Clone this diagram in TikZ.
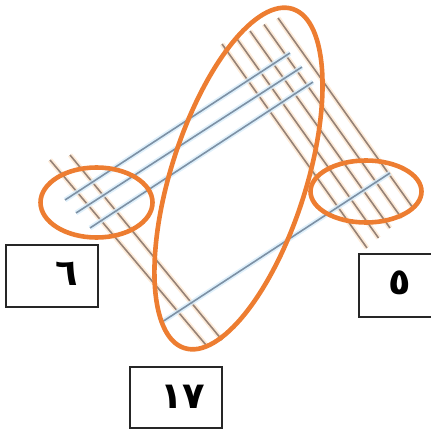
\documentclass[tikz,border=0pt]{standalone}
\usepackage{fontspec}
\newfontfamily\arabicfont[Script=Arabic]{DejaVu Sans}
\definecolor{ring}{RGB}{237,125,49}
\definecolor{rod}{RGB}{150,130,118}
\definecolor{rodglow}{RGB}{252,226,200}
\definecolor{wire}{RGB}{125,145,165}
\definecolor{wireglow}{RGB}{215,236,250}
\tikzset{
  rodline/.style={draw=rod, line width=1.6bp, preaction={draw=rodglow, line width=5bp, opacity=0.7}},
  wireline/.style={draw=wire, line width=1.6bp, preaction={draw=wireglow, line width=5bp, opacity=0.8}},
  ringline/.style={draw=ring, line width=4.6bp},
  numbox/.style={draw=black!85, line width=1.2bp, rectangle, inner sep=0pt},
  digit/.style={font=\arabicfont\bfseries\fontsize{37}{37}\selectfont, inner sep=0pt}
}
\begin{document}
\begin{tikzpicture}[x=1bp,y=-1bp]
\useasboundingbox (0,0) rectangle (430,433);
% blue lines, group of three
\coordinate (a1s) at (65,200);  \coordinate (a1e) at (290,53);
\coordinate (a2s) at (76,213);  \coordinate (a2e) at (302,67);
\coordinate (a3s) at (90,228);  \coordinate (a3e) at (313,82);
% blue line, single
\coordinate (bs) at (162,322);  \coordinate (be) at (390,173);
% orange lines, group of two
\coordinate (c1s) at (50,160);  \coordinate (c1e) at (206,345);
\coordinate (c2s) at (70,155);  \coordinate (c2e) at (222,340);
% orange lines, group of five
\foreach \i in {0,...,4}{
  \coordinate (d\i s) at ({222+14*\i},{44-6.5*\i});
  \coordinate (d\i e) at ({367+11.5*\i},{248-10*\i});
}
\draw[rodline] (c1s) -- (c1e);
\draw[rodline] (c2s) -- (c2e);
\foreach \i in {0,...,4}{ \draw[rodline] (d\i s) -- (d\i e); }
\draw[wireline] (a1s) -- (a1e);
\draw[wireline] (a2s) -- (a2e);
\draw[wireline] (a3s) -- (a3e);
\draw[wireline] (bs) -- (be);
% rings
\coordinate (lc) at (96.5,202.5);
\coordinate (rc) at (366,191.5);
\coordinate (mc) at (238.5,178.5);
\draw[ringline] (lc) ellipse [x radius=56bp, y radius=35bp];
\draw[ringline] (rc) ellipse [x radius=55.5bp, y radius=31bp];
\draw[ringline, rotate around={72.3:(mc)}] (mc) ellipse [x radius=178bp, y radius=67.5bp];
% boxes
\node[numbox, minimum width=92bp, minimum height=62bp] (box6) at (52,276) {};
\node[digit] (t6) at (67,274) {٦};
\node[numbox, minimum width=76bp, minimum height=63bp] (box5) at (397,285.5) {};
\node[digit] (t5) at (400,283) {٥};
\node[numbox, minimum width=92bp, minimum height=61bp] (box17) at (176,397.5) {};
\node[digit] (t17) at (183,397) {١٧};
\end{tikzpicture}
\end{document}
